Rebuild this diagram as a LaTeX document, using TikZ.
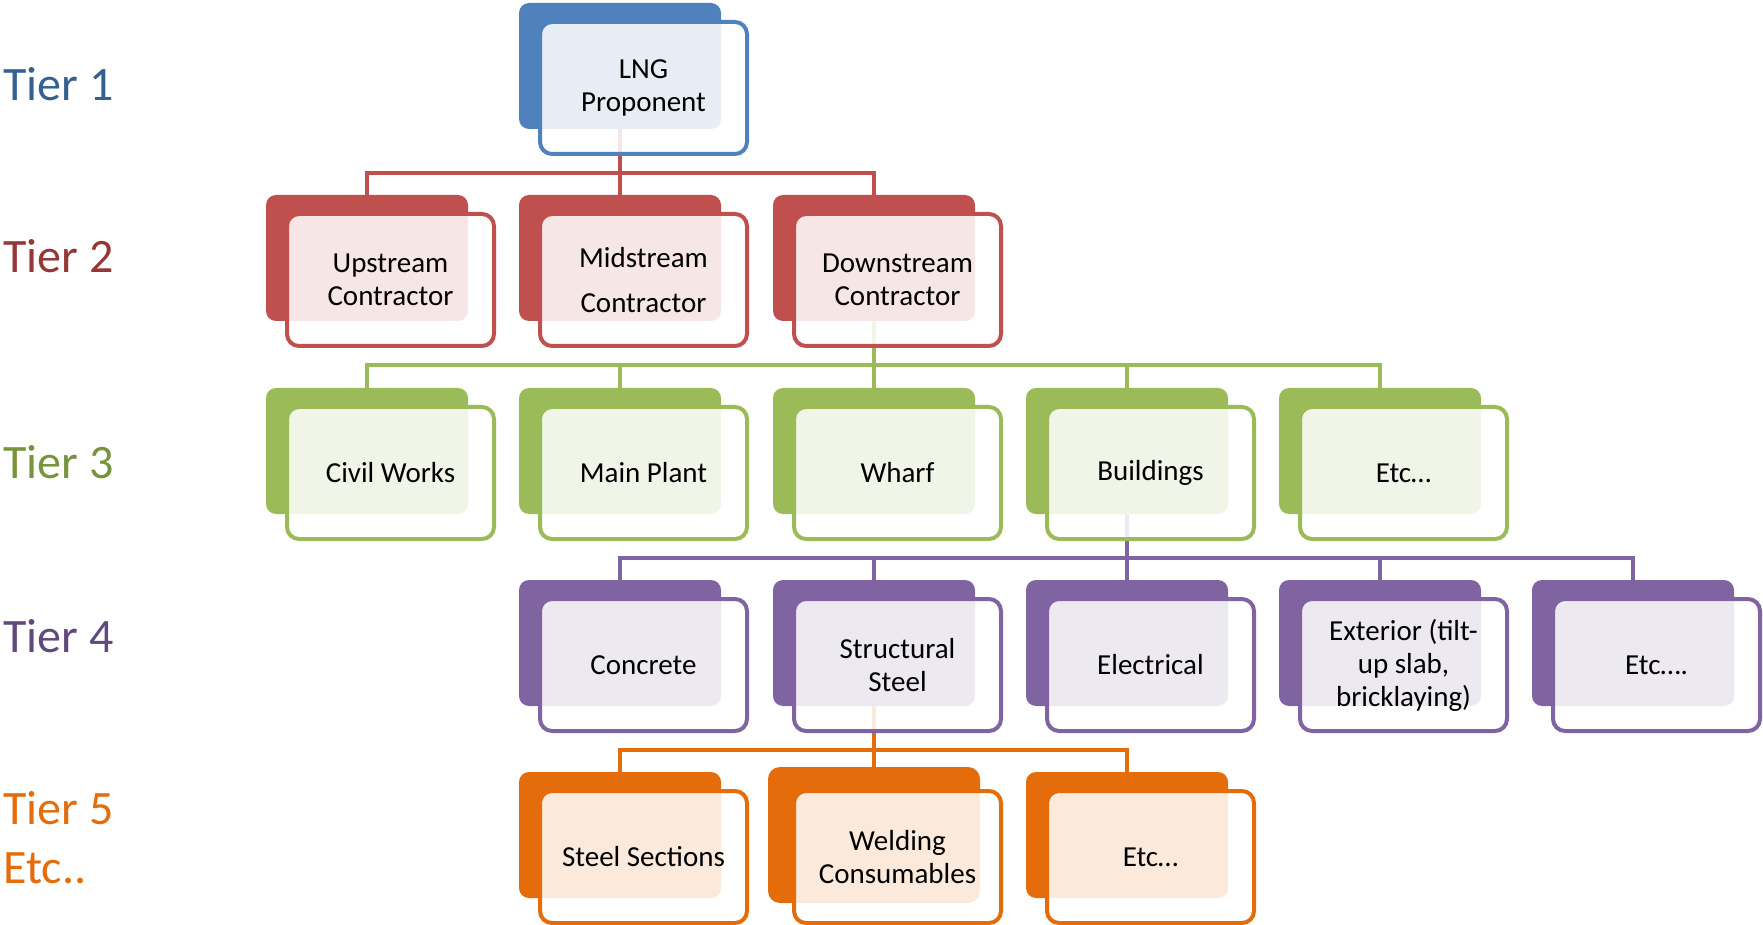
\documentclass[tikz,border=0pt]{standalone}
\usepackage{fontspec}
\setmainfont{Carlito}
\pgfdeclarelayer{bg}
\pgfsetlayers{bg,main}
\definecolor{cblue}{HTML}{4F81BD}
\definecolor{cred}{HTML}{C0504D}
\definecolor{cgreen}{HTML}{9BBB59}
\definecolor{cpurple}{HTML}{8064A2}
\definecolor{corange}{HTML}{E46C0A}
\definecolor{lblue}{HTML}{376092}
\definecolor{lred}{HTML}{953735}
\definecolor{lgreen}{HTML}{77933C}
\definecolor{lpurple}{HTML}{604A7B}
\definecolor{lorange}{HTML}{E46C0A}
\tikzset{
  backbox/.style={rectangle, rounded corners=5pt, minimum width=101pt, minimum height=63pt, inner sep=0pt, outer sep=0pt},
  bigback/.style={rectangle, rounded corners=6pt, minimum width=106pt, minimum height=68pt, inner sep=0pt, outer sep=0pt},
  frontbox/.style={rectangle, rounded corners=6pt, line width=2pt, fill=white, fill opacity=0.86, draw opacity=1, text opacity=1, minimum width=103.5pt, minimum height=66pt, inner sep=0pt, outer sep=0pt, align=center, font=\fontsize{14.5}{16.5}\selectfont},
  conn/.style={line width=2.4pt},
  tierlabel/.style={anchor=base west, inner sep=0pt, font=\fontsize{24}{28}\selectfont}
}
\begin{document}
\begin{tikzpicture}[x=0.5pt,y=-0.5pt]
\useasboundingbox (0,0) rectangle (1763,925);

% tier labels
\node[tierlabel, text=lblue] (l1) at (3,101) {Tier 1};
\node[tierlabel, text=lred] (l2) at (3,273) {Tier 2};
\node[tierlabel, text=lgreen] (l3) at (3,479) {Tier 3};
\node[tierlabel, text=lpurple] (l4) at (3,652) {Tier 4};
\node[tierlabel, text=lorange] (l5) at (3,824) {Tier 5};
\node[tierlabel, text=lorange] (l5b) at (3,883) {Etc..};

% tier 1
\node[backbox, fill=cblue] (b1) at (620,66) {};
\node[frontbox, draw=cblue] (f1) at (643.5,88) {LNG\\Proponent};

% tier 2
\node[backbox, fill=cred] (b21) at (367,258) {};
\node[frontbox, draw=cred] (f21) at (390.5,280) {Upstream\\Contractor};
\node[backbox, fill=cred] (b22) at (620,258) {};
\node[frontbox, draw=cred] (f22) at (643.5,280) {Midstream\\[6pt]Contractor};
\node[backbox, fill=cred] (b23) at (874,258) {};
\node[frontbox, draw=cred] (f23) at (897.5,280) {Downstream\\Contractor};

% tier 3
\node[backbox, fill=cgreen] (b31) at (367,451) {};
\node[frontbox, draw=cgreen] (f31) at (390.5,473) {Civil Works};
\node[backbox, fill=cgreen] (b32) at (620,451) {};
\node[frontbox, draw=cgreen] (f32) at (643.5,473) {Main Plant};
\node[backbox, fill=cgreen] (b33) at (874,451) {};
\node[frontbox, draw=cgreen] (f33) at (897.5,473) {Wharf};
\node[backbox, fill=cgreen] (b34) at (1127,451) {};
\node[frontbox, draw=cgreen] (f34) at (1150.5,473) {Buildings};
\node[backbox, fill=cgreen] (b35) at (1380,451) {};
\node[frontbox, draw=cgreen] (f35) at (1403.5,473) {Etc…};

% tier 4
\node[backbox, fill=cpurple] (b42) at (620,643) {};
\node[frontbox, draw=cpurple] (f42) at (643.5,665) {Concrete};
\node[backbox, fill=cpurple] (b43) at (874,643) {};
\node[frontbox, draw=cpurple] (f43) at (897.5,665) {Structural\\Steel};
\node[backbox, fill=cpurple] (b44) at (1127,643) {};
\node[frontbox, draw=cpurple] (f44) at (1150.5,665) {Electrical};
\node[backbox, fill=cpurple] (b45) at (1380,643) {};
\node[frontbox, draw=cpurple] (f45) at (1403.5,665) {Exterior (tilt-\\up slab,\\bricklaying)};
\node[backbox, fill=cpurple] (b46) at (1633,643) {};
\node[frontbox, draw=cpurple] (f46) at (1656.5,665) {Etc….};

% tier 5
\node[backbox, fill=corange] (b52) at (620,835) {};
\node[frontbox, draw=corange] (f52) at (643.5,857) {Steel Sections};
\node[bigback, fill=corange] (b53) at (874,835) {};
\node[frontbox, draw=corange] (f53) at (897.5,857) {Welding\\Consumables};
\node[backbox, fill=corange] (b54) at (1127,835) {};
\node[frontbox, draw=corange] (f54) at (1150.5,857) {Etc…};

\coordinate (h2) at (0,173);
\coordinate (h3) at (0,365);
\coordinate (h4) at (0,558);
\coordinate (h5) at (0,750);

\begin{pgfonlayer}{bg}
\foreach \c in {b21,b22,b23}
  \draw[conn, draw=cred] (b1.south) -- (b1.south |- h2) -| (\c.north);
\foreach \c in {b31,b32,b33,b34,b35}
  \draw[conn, draw=cgreen] (b23.south) -- (b23.south |- h3) -| (\c.north);
\foreach \c in {b42,b43,b44,b45,b46}
  \draw[conn, draw=cpurple] (b34.south) -- (b34.south |- h4) -| (\c.north);
\foreach \c in {b52,b53,b54}
  \draw[conn, draw=corange] (b43.south) -- (b43.south |- h5) -| (\c.north);
\end{pgfonlayer}
\end{tikzpicture}
\end{document}
